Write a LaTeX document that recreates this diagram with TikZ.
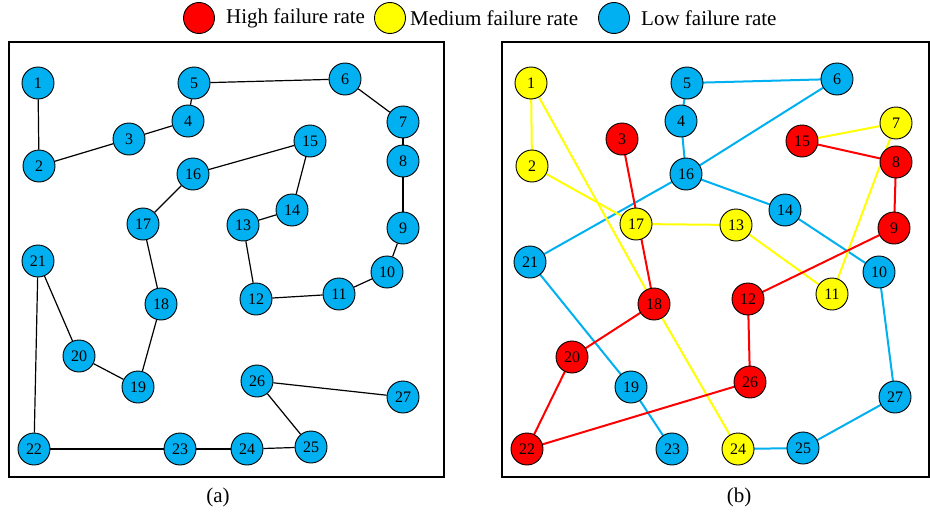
\documentclass[tikz,border=0pt]{standalone}
\usepackage{fontspec}
\setmainfont{Liberation Serif}
\definecolor{hiR}{HTML}{FF0000}
\definecolor{medY}{HTML}{FFFF00}
\definecolor{lowB}{HTML}{00B0F0}
\tikzset{
  vtx/.style={circle,draw=black,line width=0.9pt,minimum size=32pt,inner sep=0pt,font=\fontsize{16}{16}\selectfont},
  hi/.style={vtx,fill=hiR},
  med/.style={vtx,fill=medY},
  low/.style={vtx,fill=lowB},
  plain/.style={draw=black,line width=1.2pt},
  eR/.style={draw=hiR,line width=2pt},
  eY/.style={draw=medY,line width=2pt},
  eB/.style={draw=lowB,line width=2pt},
  frame/.style={draw=black,line width=2pt},
  legtext/.style={anchor=west,inner sep=0pt,font=\fontsize{21}{21}\selectfont},
  captext/.style={font=\fontsize{21}{21}\selectfont}
}
\begin{document}
\begin{tikzpicture}[x=1pt,y=-1pt]
\useasboundingbox (0,0) rectangle (930,514);

% legend
\node[hi,minimum size=31pt] (lg1) at (199,18) {};
\node[legtext] (lt1) at (226,18) {High failure rate};
\node[med,minimum size=31pt] (lg2) at (390,18) {};
\node[legtext] (lt2) at (410,18) {Medium failure rate};
\node[low,minimum size=31pt] (lg3) at (614,18) {};
\node[legtext] (lt3) at (641,18) {Low failure rate};

% panel frames
\draw[frame] (9,42) rectangle (444,477);
\draw[frame] (502,42) rectangle (929,477);
\node[captext] (capa) at (218,497) {(a)};
\node[captext] (capb) at (739,497) {(b)};

% ---- panel (a): all nodes low failure rate ----
\foreach \n/\x/\y in {1/38/83,2/39/166,3/129/139,4/188/121,5/194/83,6/345/79,7/403/122,
  8/403/161,9/403/228,10/387/272,11/339/294,12/256/299,13/243/225,14/292/210,15/310/141,
  16/193/174,17/143/224,18/161/304,19/138/387,20/79/356,21/38/261,22/34/449,23/180/449,
  24/247/449,25/311/447,26/257/381,27/403/397}
  \node[low] (a\n) at (\x,\y) {\n};
\foreach \i/\j in {1/2,2/3,3/4,4/5,5/6,6/7,7/8,8/9,9/10,10/11,11/12,12/13,13/14,14/15,
  15/16,16/17,17/18,18/19,19/20,20/21,21/22,22/23,23/24,24/25,25/26,26/27}
  \draw[plain] (a\i) -- (a\j);

% ---- panel (b): edges first, nodes on top ----
\coordinate (p1) at (531,83);  \coordinate (p2) at (532,166); \coordinate (p3) at (622,139);
\coordinate (p4) at (681,121); \coordinate (p5) at (687,83);  \coordinate (p6) at (837,79);
\coordinate (p7) at (896,123); \coordinate (p8) at (896,162); \coordinate (p9) at (894,228);
\coordinate (p10) at (879,272);\coordinate (p11) at (832,294);\coordinate (p12) at (748,299);
\coordinate (p13) at (736,225);\coordinate (p14) at (785,210);\coordinate (p15) at (802,141);
\coordinate (p16) at (686,174);\coordinate (p17) at (636,224);\coordinate (p18) at (654,304);
\coordinate (p19) at (631,387);\coordinate (p20) at (572,357);\coordinate (p21) at (530,262);
\coordinate (p22) at (527,449);\coordinate (p23) at (672,449);\coordinate (p24) at (738,449);
\coordinate (p25) at (803,448);\coordinate (p26) at (750,382);\coordinate (p27) at (895,397);

\foreach \i/\j in {5/6,5/4,4/16,16/6,16/21,16/14,14/10,21/19,19/23,10/27,27/25,25/24}
  \draw[eB] (p\i) -- (p\j);
\foreach \i/\j in {1/2,1/18,2/17,17/13,13/11,11/7,15/7,18/24}
  \draw[eY] (p\i) -- (p\j);
\foreach \i/\j in {3/18,15/8,8/9,9/12,12/26,26/22,22/20,20/18}
  \draw[eR] (p\i) -- (p\j);

\foreach \n in {3,8,9,12,15,18,20,22,26}
  \node[hi] (b\n) at (p\n) {\n};
\foreach \n in {1,2,7,11,13,17,24}
  \node[med] (b\n) at (p\n) {\n};
\foreach \n in {4,5,6,10,14,16,19,21,23,25,27}
  \node[low] (b\n) at (p\n) {\n};
\end{tikzpicture}
\end{document}
